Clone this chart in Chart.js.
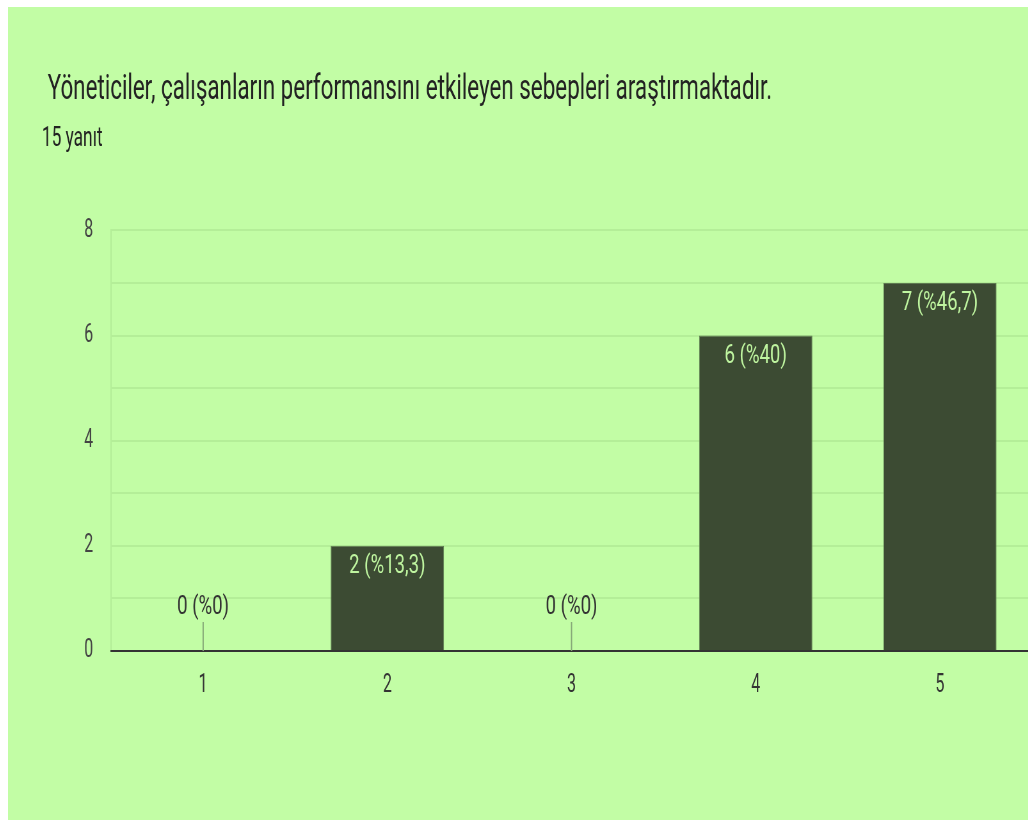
<!DOCTYPE html>
<html>
<head>
<meta charset="utf-8">
<script src="https://cdn.jsdelivr.net/npm/chart.js@4"></script>
<style>
  html, body { margin: 0; padding: 0; background: #fff; }
  #frame {
    position: absolute; left: 8px; top: 7px;
    width: 1020px; height: 813px;
    background: #c2fda5; overflow: hidden;
  }
  /* text in the reference is condensed, so the whole chart is squeezed */
  #squeeze { transform: scaleX(0.64); transform-origin: 0 0; width: 1620px; }
</style>
</head>
<body>
<div id="frame">
  <div id="squeeze">
    <canvas id="chart" width="1620" height="813"></canvas>
  </div>
</div>
<script>
// @ts-check

const categories = ['1', '2', '3', '4', '5'];
const counts = [0, 2, 0, 6, 7];
const yTicks = [0, 2, 4, 6, 8];
const totalAnswers = 15;

const titleText = 'Yöneticiler, çalışanların performansını etkileyen sebepleri araştırmaktadır.';
const subtitleText = totalAnswers + ' yanıt';

const gridColor = 'rgba(60, 110, 40, 0.10)';

// "2 (%13,3)" style labels
function labelFor(v) {
  const pct = (v / totalAnswers * 100).toLocaleString('tr-TR', { maximumFractionDigits: 1 });
  return v + ' (%' + pct + ')';
}

function drawLabel(ctx, text, x, y) {
  // labels are a bit less condensed than the rest
  ctx.save();
  ctx.translate(x, y);
  ctx.scale(1.16, 1);
  ctx.fillText(text, 0, 0);
  ctx.restore();
}

// Value labels plus the small stub shown for empty answers
const barLabels = {
  id: 'barLabels',
  afterLayout(chart) {
    // title sits a little to the right of the subtitle
    const t = chart.titleBlock;
    if (t) { t.left += 9; t.right += 9; }
  },
  afterDatasetsDraw(chart) {
    const ctx = chart.ctx;
    const meta = chart.getDatasetMeta(0);
    const y = chart.scales.y;
    ctx.save();
    ctx.font = '25px Roboto';
    ctx.textAlign = 'center';
    ctx.textBaseline = 'middle';
    meta.data.forEach((bar, i) => {
      const v = counts[i];
      if (v === 0) {
        const base = y.getPixelForValue(0);
        ctx.strokeStyle = '#86a878';
        ctx.lineWidth = 2;
        ctx.beginPath();
        ctx.moveTo(bar.x, base);
        ctx.lineTo(bar.x, base - 29);
        ctx.stroke();
        ctx.fillStyle = '#333';
        drawLabel(ctx, labelFor(v), bar.x, base - 43);
      } else {
        ctx.fillStyle = '#bff5a0';
        drawLabel(ctx, labelFor(v), bar.x, bar.y + 21);
      }
    });
    ctx.restore();
  }
};

// @ts-ignore
new Chart(document.getElementById('chart'), {
  type: 'bar',
  data: {
    labels: categories,
    datasets: [{
      data: counts,
      backgroundColor: '#3c4b33',
      borderColor: '#5d7a50',
      borderWidth: 1,
      barPercentage: 0.615,
      categoryPercentage: 1
    }]
  },
  options: {
    responsive: false,
    animation: false,
    devicePixelRatio: 1,
    layout: { padding: { left: 53, right: 20, top: 0, bottom: 0 } },
    plugins: {
      legend: { display: false },
      tooltip: { enabled: false },
      title: {
        display: true,
        text: titleText,
        align: 'start',
        color: '#222',
        font: { family: 'Roboto', size: 35, weight: 'normal' },
        padding: { top: 62, bottom: 12 }
      },
      subtitle: {
        display: true,
        text: subtitleText,
        align: 'start',
        color: '#222',
        font: { family: 'Roboto', size: 27 },
        padding: { top: 0, bottom: 75 }
      }
    },
    scales: {
      x: {
        grid: { display: false, drawTicks: false },
        border: { display: true, color: '#333', width: 2 },
        ticks: { color: '#333', font: { family: 'Roboto', size: 25 }, padding: 20 },
        afterFit(scale) { scale.height = 169; }
      },
      y: {
        min: 0,
        max: 8,
        grid: {
          drawTicks: false,
          lineWidth: 2,
          color: (c) => (c.tick && c.tick.value === 0 ? 'transparent' : gridColor)
        },
        border: { display: true, color: gridColor, width: 2 },
        ticks: {
          stepSize: 1,
          color: '#444',
          padding: 28,
          font: { family: 'Roboto', size: 25 },
          callback: (v) => (yTicks.includes(v) ? v : '')
        },
        afterFit(scale) { scale.width = 108; }
      }
    }
  },
  plugins: [barLabels]
});
</script>
</body>
</html>
